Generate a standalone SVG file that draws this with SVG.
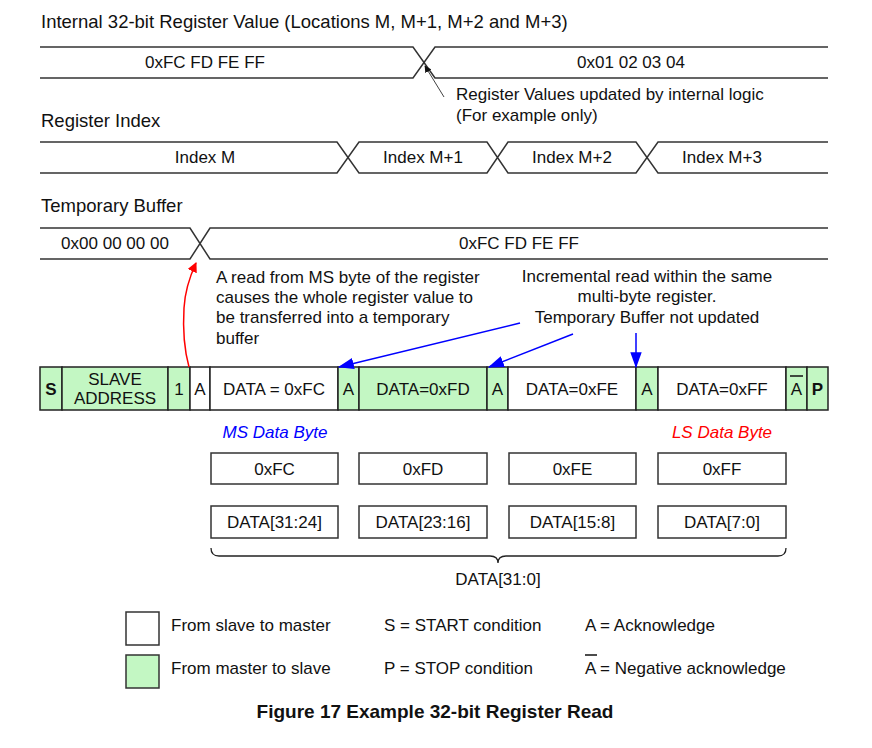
<svg xmlns="http://www.w3.org/2000/svg" width="872" height="748" viewBox="0 0 872 748">
<style>
text{font-family:"Liberation Sans",Arial,sans-serif;font-size:17px;fill:#111}
.h{font-size:18.5px}
.c{text-anchor:middle}
.wave{fill:none;stroke:#333;stroke-width:1.5}
.cell{stroke:#222;stroke-width:1.5}
.g{fill:#c3f7c3}
.w{fill:#fff}
.box{fill:#fff;stroke:#333;stroke-width:1.5}
.b{font-weight:bold}
</style>
<defs>
<marker id="ab" viewBox="0 0 10 10" refX="9" refY="5" markerWidth="7" markerHeight="7" orient="auto" markerUnits="userSpaceOnUse"><path d="M0,0 L10,5 L0,10 z" fill="#111"/></marker>
<marker id="ar" viewBox="0 0 10 10" refX="9" refY="5" markerWidth="10" markerHeight="10" orient="auto" markerUnits="userSpaceOnUse"><path d="M0,0 L10,5 L0,10 z" fill="#f00"/></marker>
<marker id="au" viewBox="0 0 14 10" refX="13" refY="5" markerWidth="16" markerHeight="12" orient="auto" markerUnits="userSpaceOnUse"><path d="M0,0 L14,5 L0,10 z" fill="#00f"/></marker>
</defs>
<rect width="872" height="748" fill="#fff"/>

<g id="register-value">
<text class="h" x="41" y="28">Internal 32-bit Register Value (Locations M, M+1, M+2 and M+3)</text>
<path class="wave" d="M40,47 H413 L435,78 H828 M40,78 H413 L435,47 H828"/>
<text class="c" x="205" y="68">0xFC FD FE FF</text>
<text class="c" x="631" y="68">0x01 02 03 04</text>
</g>

<g id="register-index">
<text class="h" x="41" y="127">Register Index</text>
<path class="wave" d="M40,142 H337 L359,173 H487 L508,142 H636 L658,173 H828 M40,173 H337 L359,142 H487 L508,173 H636 L658,142 H828"/>
<text class="c" x="205" y="163">Index M</text>
<text class="c" x="423" y="163">Index M+1</text>
<text class="c" x="572" y="163">Index M+2</text>
<text class="c" x="722" y="163">Index M+3</text>
</g>

<g id="temporary-buffer">
<text class="h" x="41" y="212">Temporary Buffer</text>
<path class="wave" d="M40,228 H190 L210,259 H828 M40,259 H190 L210,228 H828"/>
<text class="c" x="115" y="249">0x00 00 00 00</text>
<text class="c" x="519" y="249">0xFC FD FE FF</text>
</g>

<g id="note-internal">
<text x="456" y="100">Register Values updated by internal logic</text>
<text x="456" y="121">(For example only)</text>
</g>

<g id="note-ms-read">
<text x="216" y="283">A read from MS byte of the register</text>
<text x="216" y="303">causes the whole register value to</text>
<text x="216" y="323">be transferred into a temporary</text>
<text x="216" y="344">buffer</text>
</g>

<g id="note-incremental">
<text class="c" x="647" y="282">Incremental read within the same</text>
<text class="c" x="647" y="302">multi-byte register.</text>
<text class="c" x="647" y="323">Temporary Buffer not updated</text>
</g>

<g id="byte-sequence">
<rect class="cell g" x="40" y="367" width="22" height="43"/>
<rect class="cell g" x="62" y="367" width="106" height="43"/>
<rect class="cell g" x="168" y="367" width="22" height="43"/>
<rect class="cell w" x="190" y="367" width="20" height="43"/>
<rect class="cell w" x="210" y="367" width="128" height="43"/>
<rect class="cell g" x="338" y="367" width="21" height="43"/>
<rect class="cell g" x="359" y="367" width="128" height="43"/>
<rect class="cell g" x="487" y="367" width="21" height="43"/>
<rect class="cell w" x="508" y="367" width="128" height="43"/>
<rect class="cell g" x="636" y="367" width="22" height="43"/>
<rect class="cell w" x="658" y="367" width="128" height="43"/>
<rect class="cell g" x="786" y="367" width="21" height="43"/>
<rect class="cell g" x="807" y="367" width="21" height="43"/>
<text class="c b" x="51" y="395">S</text>
<text class="c" x="115" y="385">SLAVE</text>
<text class="c" x="115" y="404">ADDRESS</text>
<text class="c" x="179" y="395">1</text>
<text class="c" x="200" y="395">A</text>
<text class="c" x="274" y="395">DATA = 0xFC</text>
<text class="c" x="348.5" y="395">A</text>
<text class="c" x="423" y="395">DATA=0xFD</text>
<text class="c" x="497.5" y="395">A</text>
<text class="c" x="572" y="395">DATA=0xFE</text>
<text class="c" x="647" y="395">A</text>
<text class="c" x="722" y="395">DATA=0xFF</text>
<text class="c" x="796.5" y="395">A</text>
<line x1="790" y1="376" x2="803" y2="376" stroke="#111" stroke-width="1.5"/>
<text class="c b" x="817.5" y="395">P</text>
</g>

<g id="byte-labels">
<text class="c" x="275" y="438" style="fill:#00f;font-style:italic">MS Data Byte</text>
<text class="c" x="722" y="438" style="fill:#f00;font-style:italic">LS Data Byte</text>
</g>

<g id="byte-values">
<rect class="box" x="211" y="453" width="127" height="31"/>
<rect class="box" x="359" y="453" width="128" height="31"/>
<rect class="box" x="509" y="453" width="127" height="31"/>
<rect class="box" x="658" y="453" width="128" height="31"/>
<text class="c" x="274.5" y="475">0xFC</text>
<text class="c" x="423" y="475">0xFD</text>
<text class="c" x="572.5" y="475">0xFE</text>
<text class="c" x="722" y="475">0xFF</text>
</g>

<g id="byte-fields">
<rect class="box" x="211" y="506" width="127" height="32"/>
<rect class="box" x="359" y="506" width="128" height="32"/>
<rect class="box" x="509" y="506" width="127" height="32"/>
<rect class="box" x="658" y="506" width="128" height="32"/>
<text class="c" x="274.5" y="528">DATA[31:24]</text>
<text class="c" x="423" y="528">DATA[23:16]</text>
<text class="c" x="572.5" y="528">DATA[15:8]</text>
<text class="c" x="722" y="528">DATA[7:0]</text>
</g>

<g id="word-brace">
<path d="M211,548 Q211,556 219,556 H490 Q498,556 498,563 Q498,556 506,556 H778 Q786,556 786,548" fill="none" stroke="#222" stroke-width="1.3"/>
<text class="c" x="498" y="585">DATA[31:0]</text>
</g>

<g id="connectors">
<line x1="444" y1="97" x2="425" y2="66" stroke="#111" stroke-width="0.8" marker-end="url(#ab)"/>
<path d="M189,367 C183,345 183,325 184,308 C185,290 190,276 196,263" fill="none" stroke="#f00" stroke-width="1.5" marker-end="url(#ar)"/>
<line x1="520" y1="323" x2="339" y2="367" stroke="#00f" stroke-width="1.5" marker-end="url(#au)"/>
<line x1="573" y1="334" x2="489" y2="367" stroke="#00f" stroke-width="1.5" marker-end="url(#au)"/>
<line x1="636" y1="333" x2="636" y2="367" stroke="#00f" stroke-width="1.5" marker-end="url(#au)"/>
</g>

<g id="legend">
<rect x="126" y="612" width="33" height="33" fill="#fff" stroke="#333" stroke-width="1.5"/>
<rect x="126" y="655" width="33" height="33" fill="#c3f7c3" stroke="#333" stroke-width="1.5"/>
<text x="171" y="631">From slave to master</text>
<text x="171" y="674">From master to slave</text>
<text x="384" y="631">S = START condition</text>
<text x="384" y="674">P = STOP condition</text>
<text x="585" y="631">A = Acknowledge</text>
<text x="585" y="674">A = Negative acknowledge</text>
<line x1="585" y1="655" x2="597" y2="655" stroke="#111" stroke-width="1.5"/>
</g>

<g id="caption">
<text class="c b" x="435" y="718" style="font-size:19px">Figure 17 Example 32-bit Register Read</text>
</g>
</svg>
